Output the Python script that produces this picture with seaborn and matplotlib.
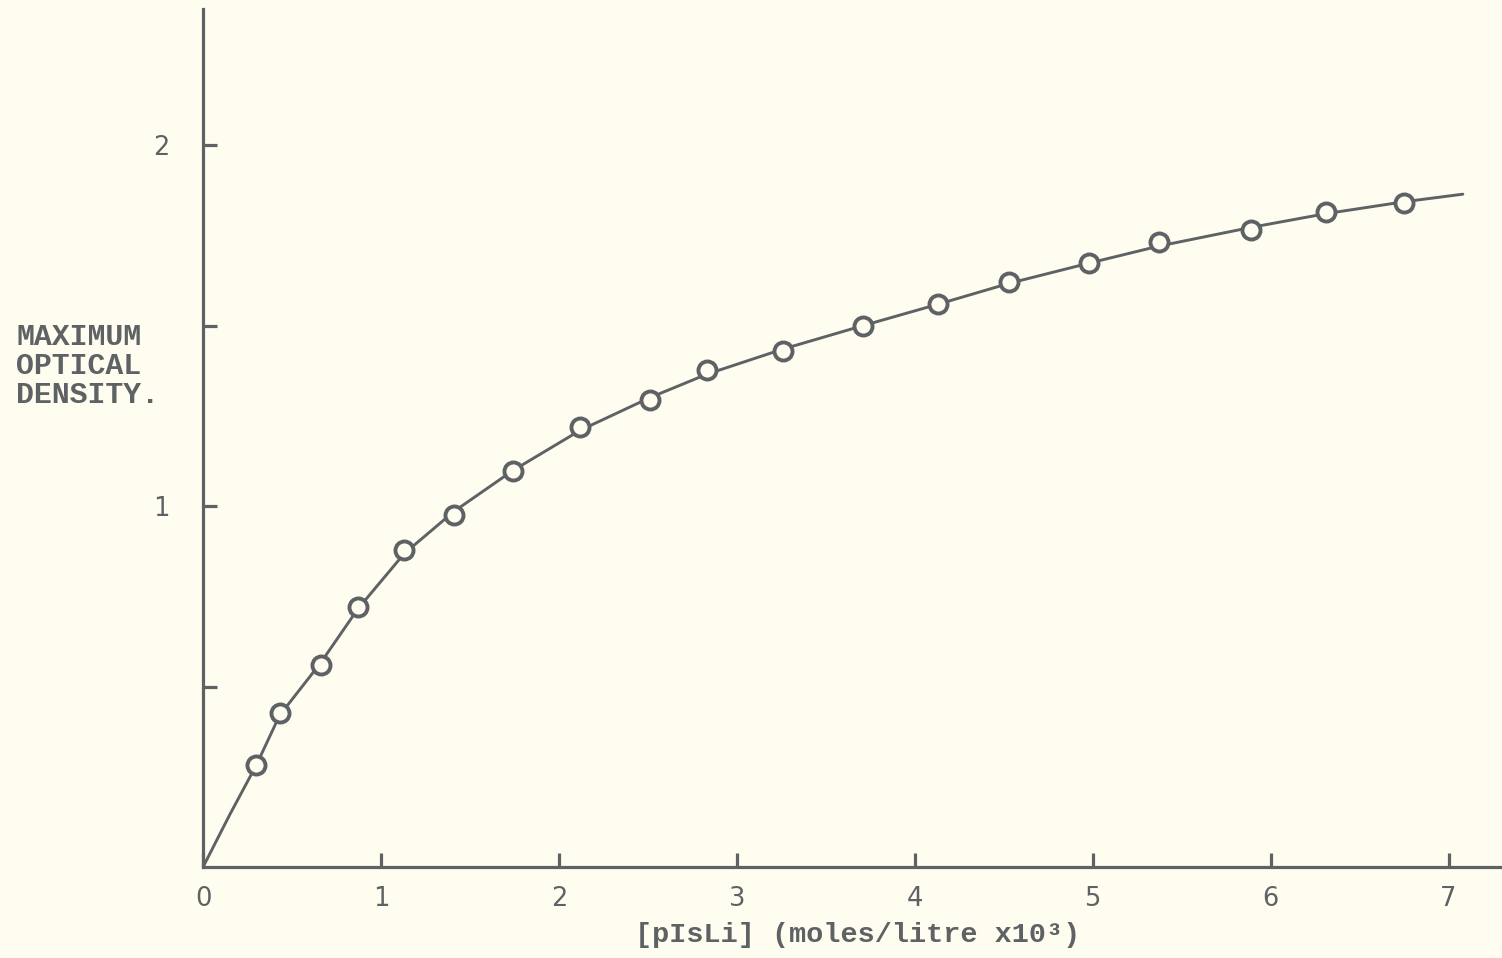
import matplotlib
matplotlib.use("Agg")
import matplotlib.pyplot as plt
import matplotlib.lines as mlines
import seaborn as sns
import pandas as pd

# Measured points: concentration (mol/l x 10^3) vs maximum optical density
conc = [0.30, 0.43, 0.66, 0.87, 1.13, 1.41, 1.74, 2.12, 2.51, 2.83,
        3.26, 3.71, 4.13, 4.53, 4.98, 5.37, 5.89, 6.31, 6.75]
density = [0.283, 0.427, 0.560, 0.721, 0.879, 0.976, 1.098, 1.220, 1.295, 1.376,
           1.429, 1.498, 1.559, 1.620, 1.673, 1.731, 1.764, 1.814, 1.839]

# Smooth fitted curve drawn through the points, from the origin
curve_x = [0.0, 0.15, 0.30, 0.43, 0.66, 0.87, 1.13, 1.41, 1.74, 2.12, 2.51, 2.83,
           3.26, 3.71, 4.13, 4.53, 4.98, 5.37, 5.89, 6.31, 6.75, 7.08]
curve_y = [0.0, 0.145, 0.283, 0.420, 0.565, 0.715, 0.868, 0.985, 1.098, 1.210, 1.300, 1.365,
           1.435, 1.500, 1.559, 1.617, 1.673, 1.720, 1.772, 1.810, 1.843, 1.864]

x_ticks = [0, 1, 2, 3, 4, 5, 6, 7]
y_ticks = [0.5, 1.0, 1.5, 2.0]
y_tick_labels = ["", "1", "", "2"]

paper = "#FFFDF0"
ink = "#5E6264"

sns.set_theme(style="white")
plt.rcParams["font.family"] = ["DejaVu Sans"]
plt.rcParams["xtick.direction"] = "in"
plt.rcParams["ytick.direction"] = "in"
plt.rcParams["xtick.bottom"] = True
plt.rcParams["ytick.left"] = True

fig = plt.figure(figsize=(15.02, 9.58), dpi=100, facecolor=paper)
ax = fig.add_axes([0.1352, 0.095, 0.8648, 0.8956])
ax.set_facecolor(paper)

pts = pd.DataFrame({"conc": conc, "density": density})
fit = pd.DataFrame({"conc": curve_x, "density": curve_y})

sns.lineplot(data=fit, x="conc", y="density", ax=ax, color=ink, linewidth=2.1,
             sort=False, zorder=2)
ax.plot(pts["conc"], pts["density"], linestyle="none", marker="o", markersize=13,
        markerfacecolor=paper, markeredgecolor=ink, markeredgewidth=2.8, zorder=3)

ax.set_xlim(0, 7.30)
ax.set_ylim(0, 2.377)

for side in ("top", "right"):
    ax.spines[side].set_visible(False)
for side in ("left", "bottom"):
    ax.spines[side].set_color(ink)
    ax.spines[side].set_linewidth(2.3)

ax.set_xticks(x_ticks)
ax.set_xticklabels([str(t) for t in x_ticks])
ax.set_yticks(y_ticks)
ax.set_yticklabels(y_tick_labels)
ax.tick_params(axis="both", which="major", direction="in", length=10, width=2.3,
               color=ink, labelcolor=ink, labelsize=18.5, bottom=True, left=True,
               top=False, right=False)
ax.tick_params(axis="x", pad=14)
ax.tick_params(axis="y", pad=24)
for lab in ax.get_xticklabels() + ax.get_yticklabels():
    lab.set_fontweight("medium")

# Tick marks point into the plotting area
for t in ax.xaxis.get_major_ticks():
    t.tick1line.set_marker(mlines.TICKUP)
for t in ax.yaxis.get_major_ticks():
    t.tick1line.set_marker(mlines.TICKRIGHT)

ax.set_xlabel("")
ax.set_ylabel("")

mono = ["Liberation Mono", "DejaVu Sans Mono"]
fig.text(0.0107, 0.618, "MAXIMUM\nOPTICAL\nDENSITY.", ha="left", va="center",
         family=mono, fontweight="bold", fontsize=21.5, color=ink, linespacing=1.05)
fig.text(0.571, 0.024, "[pIsLi] (moles/litre x10³)", ha="center", va="center",
         family=mono, fontweight="bold", fontsize=20.5, color=ink)

fig.savefig("out.png", dpi=100, facecolor=paper)
